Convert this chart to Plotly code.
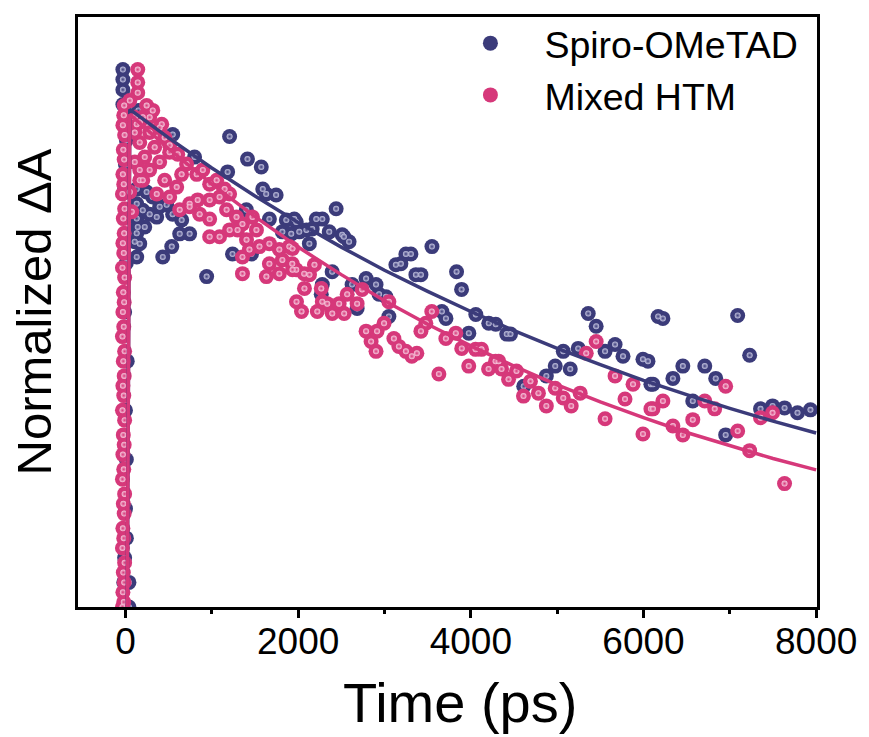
import plotly.graph_objects as go

# ---------------- data ----------------
spiro_rise_t = [-20, 40, -20, 40, -10, 10, 0, 10, 0, 20, -10, 10, 0, 20, -10, 0, 10, -30, -30, -30, -30]
spiro_rise_v = [0.00, 0.00, 0.05, 0.05, 0.10, 0.14, 0.20, 0.30, 0.40, 0.50, 0.60, 0.70, 0.75, 0.80,
                0.85, 0.90, 0.95, 1.022, 1.052, 1.073, 1.093]

spiro_t = [150, 200, 547, 1206, 1413, 1573, 1183, 800, 1630, 1745, 1400, 1667, 1863, 1978, 1817, 1920,
           2096, 651, 743, 628, 432, 536, 940, 1436, 1459, 130, 130, 130, 130, 200, 165, 130,
           315, 396, 245, 280, 362, 477, 546, 223, 107, 142, 1240, 1590, 2440, 2280, 2510, 2590,
           1955, 2210, 2013, 2163, 2360, 2130, 2530, 3248, 3306, 3550, 3132, 3190, 3364, 3422,
           3835, 3893, 2394, 2280, 2268, 2625, 2787, 2902, 2937, 3017, 2683, 3051, 3665, 3712,
           4058, 4208, 4289, 3977, 4416, 5360, 5452, 6170, 4460, 5071, 5244, 5555, 5671, 5763,
           5994, 6086, 4978, 4875, 5152, 4613, 6225, 7091, 7230, 6052, 6110, 6341, 6456, 6710,
           6837, 6571, 6952, 7356, 7495, 7634, 7784, 7934]
spiro_v = [1.010, 1.000, 0.961, 0.957, 0.911, 0.895, 0.885, 0.915, 0.840, 0.838, 0.808, 0.789, 0.787,
           0.783, 0.763, 0.759, 0.767, 0.787, 0.759, 0.759, 0.712, 0.733, 0.672, 0.722, 0.718, 0.850,
           0.820, 0.790, 0.760, 0.807, 0.739, 0.712, 0.834, 0.814, 0.844, 0.799, 0.793, 0.818, 0.799,
           0.773, 0.743, 0.773, 0.718, 0.850, 0.810, 0.789, 0.757, 0.743, 0.789, 0.789, 0.763, 0.769,
           0.763, 0.739, 0.753, 0.718, 0.718, 0.733, 0.696, 0.698, 0.676, 0.676, 0.682, 0.646, 0.682,
           0.656, 0.636, 0.656, 0.668, 0.656, 0.636, 0.631, 0.607, 0.591, 0.601, 0.587, 0.595, 0.577,
           0.575, 0.557, 0.555, 0.597, 0.571, 0.591, 0.555, 0.520, 0.526, 0.520, 0.534, 0.510, 0.504,
           0.453, 0.490, 0.470, 0.484, 0.449, 0.587, 0.593, 0.512, 0.500, 0.453, 0.465, 0.490, 0.490,
           0.465, 0.419, 0.350, 0.403, 0.409, 0.405, 0.395, 0.401]

mixed_rise_t = [-35, -20, -30, -15, -25, -10, -35, -20, -30, -15, -25, -10, -35, -20, -30, -15,
                -25, -10, -35, -20, -30, -15, -25, -10, -35, -20, -30, -15, -25, -10, -35, -20,
                -30, -15, -25, -10, -35, -20, -30, -15, -25, -10, -30, -20, -15]
mixed_rise_v = [0.00, 0.01, 0.03, 0.05, 0.07, 0.09, 0.12, 0.14, 0.16, 0.19, 0.21, 0.23, 0.26, 0.28,
                0.31, 0.33, 0.35, 0.38, 0.40, 0.43, 0.45, 0.47, 0.50, 0.52, 0.55, 0.57, 0.60, 0.62,
                0.64, 0.67, 0.69, 0.72, 0.74, 0.76, 0.79, 0.81, 0.84, 0.86, 0.88, 0.91, 0.93, 0.96,
                0.98, 1.00, 1.02]

mixed_t = [142, 142, 142, 50, 245, 316, 420, 200, 130, 280, 396, 454, 280, 165, 338, 223, 511, 396,
           107, 280, 165, 454, 650, 107, 107, 165, 50, 73, 512, 605, 708, 825, 896, 975, 1056, 1148,
           1206, 1090, 975, 836, 743, 593, 512, 362, 200, 165, 628, 743, 859, 975, 1171, 1286, 1355,
           1471, 1517, 975, 1090, 1206, 1298, 1402, 1436, 1355, 1552, 1667, 1782, 1898, 1817, 1667,
           1932, 1782, 1632, 1978, 2070, 1355, 1935, 1935, 2131, 2189, 2073, 1981, 2039, 2268, 2280,
           2337, 2222, 2395, 2475, 2533, 2568, 2683, 2741, 3051, 2787, 2845, 2914, 2995, 2902, 3109,
           3167, 3248, 3317, 3375, 3479, 3548, 3422, 3630, 3711, 3826, 3895, 3976, 4055, 4124, 4206,
           4287, 4356, 5452, 5337, 4322, 4437, 4529, 4691, 4783, 4610, 4875, 4978, 5071, 5163, 5267,
           5671, 5879, 5786, 5555, 5994, 6086, 6952, 6225, 6110, 6710, 6825, 6341, 6456, 6571, 7091,
           7230, 7356, 7495, 7634]
mixed_v = [1.093, 1.067, 1.046, 1.030, 1.020, 1.010, 0.982, 0.996, 0.982, 0.996, 0.975, 0.955, 0.965,
           0.945, 0.935, 0.915, 0.925, 0.905, 0.905, 0.889, 0.868, 0.868, 0.880, 0.965, 0.996, 0.986,
           0.844, 0.804, 0.939, 0.921, 0.901, 0.880, 0.889, 0.860, 0.868, 0.850, 0.840, 0.834, 0.828,
           0.828, 0.820, 0.854, 0.834, 0.840, 0.868, 0.889, 0.808, 0.814, 0.799, 0.789, 0.808, 0.793,
           0.779, 0.793, 0.767, 0.753, 0.753, 0.767, 0.767, 0.747, 0.727, 0.712, 0.733, 0.739, 0.727,
           0.733, 0.706, 0.698, 0.698, 0.678, 0.672, 0.686, 0.678, 0.678, 0.729, 0.686, 0.676, 0.696,
           0.648, 0.621, 0.601, 0.648, 0.621, 0.617, 0.601, 0.597, 0.617, 0.597, 0.636, 0.617, 0.646,
           0.621, 0.561, 0.540, 0.561, 0.577, 0.520, 0.546, 0.530, 0.520, 0.510, 0.516, 0.577, 0.601,
           0.561, 0.474, 0.546, 0.557, 0.526, 0.490, 0.524, 0.524, 0.484, 0.500, 0.484, 0.540, 0.516,
           0.500, 0.463, 0.480, 0.459, 0.435, 0.429, 0.409, 0.445, 0.425, 0.409, 0.435, 0.470, 0.453,
           0.423, 0.383, 0.352, 0.403, 0.449, 0.419, 0.403, 0.419, 0.403, 0.368, 0.350, 0.381, 0.358,
           0.318, 0.385, 0.395, 0.251]

# fitted decay curves
fit_t = [20, 50, 500, 1000, 1500, 2000, 2500, 3000, 3500, 4000, 4500, 5000, 5500, 6000, 6500, 7000, 7500, 8000]
spiro_fit_v = [0.0, 1.012, 0.954, 0.893, 0.836, 0.782, 0.732, 0.685, 0.642, 0.601, 0.562, 0.526,
               0.493, 0.461, 0.432, 0.404, 0.378, 0.354]
mixed_fit_v = [0.0, 1.002, 0.932, 0.860, 0.794, 0.732, 0.676, 0.623, 0.575, 0.531, 0.490, 0.452,
               0.417, 0.385, 0.355, 0.328, 0.302, 0.279]

x_ticks = [0, 2000, 4000, 6000, 8000]

NAVY = "#3b3b7a"
PINK = "#d6387a"
FONT = "Arial, 'Liberation Sans', sans-serif"

fig = go.Figure()


def add_spheres(t, v, color, light, name, showlegend):
    fig.add_trace(go.Scatter(x=t, y=v, mode="markers", name=name, showlegend=showlegend,
                             legendgroup=name,
                             marker=dict(size=15, color=color, line=dict(width=0))))
    fig.add_trace(go.Scatter(x=t, y=v, mode="markers", showlegend=False, legendgroup=name,
                             hoverinfo="skip",
                             marker=dict(size=6, color=light, line=dict(width=0),
                                         gradient=dict(type="radial", color=color))))


add_spheres(spiro_rise_t + spiro_t, spiro_rise_v + spiro_v, NAVY, "#c4c4e0", "Spiro-OMeTAD", True)
add_spheres(mixed_rise_t + mixed_t, mixed_rise_v + mixed_v, PINK, "#f7cade", "Mixed HTM", True)

fig.add_trace(go.Scatter(x=fit_t, y=spiro_fit_v, mode="lines", showlegend=False,
                         line=dict(color=NAVY, width=3.5)))
fig.add_trace(go.Scatter(x=fit_t, y=mixed_fit_v, mode="lines", showlegend=False,
                         line=dict(color=PINK, width=3.5)))

fig.update_layout(
    width=869, height=737,
    margin=dict(l=78, r=49, t=14, b=130),
    paper_bgcolor="white", plot_bgcolor="white",
    font=dict(family=FONT, color="black"),
    showlegend=True,
    legend=dict(x=0.485, y=1.008, xanchor="left", yanchor="top",
                bgcolor="rgba(0,0,0,0)", font=dict(size=37.5, family=FONT),
                itemwidth=98, tracegroupgap=0),
    xaxis=dict(range=[-550, 8010], tickvals=x_ticks, ticktext=[str(v) for v in x_ticks],
               showgrid=False, zeroline=False, showline=True, linecolor="black", linewidth=3,
               mirror=True, ticks="outside", ticklen=8, tickwidth=3, tickcolor="black",
               minor=dict(tick0=0, dtick=1000, ticks="outside", ticklen=4, tickwidth=3,
                          tickcolor="black", showgrid=False),
               tickfont=dict(size=37, family=FONT), ticklabelstandoff=-8),
    yaxis=dict(range=[0, 1.2], showticklabels=False, ticks="", showgrid=False, zeroline=False,
               showline=True, linecolor="black", linewidth=3, mirror=True,
               title=dict(text="Normalized ΔA", font=dict(size=49, family=FONT), standoff=8)),
    annotations=[dict(text="Time (ps)", xref="paper", yref="paper", x=0.5175, y=-0.162,
                      xanchor="center", yanchor="middle", showarrow=False,
                      font=dict(size=56, family=FONT, color="black"))],
)

fig.write_html("out.html")
